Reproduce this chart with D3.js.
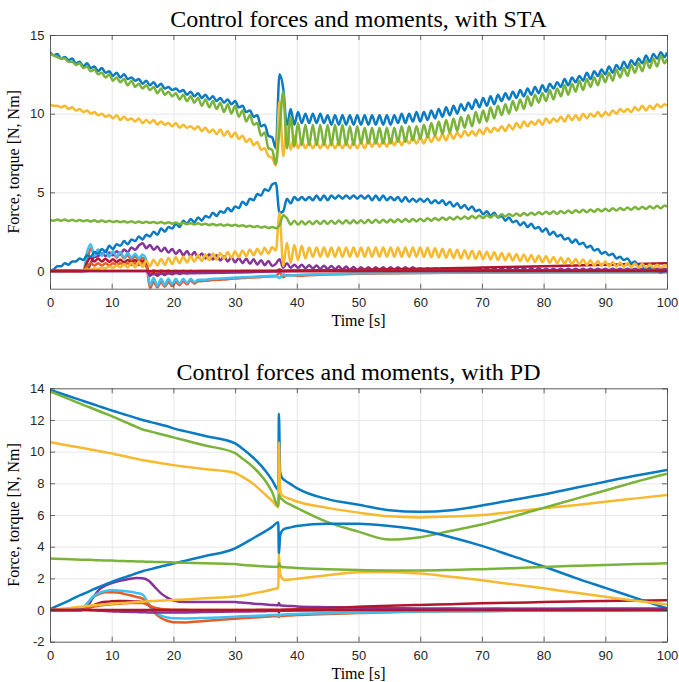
<!DOCTYPE html>
<html>

<head>
    <meta charset="utf-8" />
    <title>Control forces and moments</title>
    <style>
        body { margin: 0; background: #fff; }
        svg { display: block; }
        .ax text { font-family: "Liberation Sans", Arial, sans-serif; font-size: 13px; fill: #262626; }
        .lbl { font-family: "Liberation Serif", "Times New Roman", serif; fill: #000; }
    </style>
</head>

<body>
    <svg width="679" height="682"></svg>

<script src="https://cdn.jsdelivr.net/npm/d3@7"></script>
<script>

    // ---- shared ticks ----
    var timeTicks = [0, 10, 20, 30, 40, 50, 60, 70, 80, 90, 100];
    var staTicks = [0, 5, 10, 15];
    var pdTicks = [-2, 0, 2, 4, 6, 8, 10, 12, 14];

    // ---- STA run: logged every 0.6 s (half a chattering period), 168 samples ----
    var STEP = 0.6;

    var staBlueTop = [
        13.9,13.7,13.8,13.5,13.6,13.4,13.5,13.2,13.3,13.0,
        13.2,12.9,13.0,12.7,12.9,12.6,12.7,12.4,12.6,12.3,
        12.5,12.2,12.3,12.1,12.2,11.9,12.1,11.8,12.0,11.7,
        11.9,11.6,11.7,11.5,11.6,11.4,11.5,11.2,11.4,11.1,
        11.3,11.0,11.2,10.9,11.1,10.8,11.0,10.7,10.9,10.6,
        10.8,10.4,10.5,10.1,10.2,9.8,9.9,9.2,9.3,8.6,
        8.5,7.8,12.5,11.6,9.2,10.3,9.3,10.1,9.4,10.0,
        9.4,10.0,9.4,10.0,9.4,9.9,9.3,9.9,9.3,9.9,
        9.3,9.9,9.3,9.9,9.3,9.9,9.3,9.9,9.3,9.9,
        9.3,9.9,9.3,9.9,9.4,10.0,9.4,10.0,9.5,10.1,
        9.5,10.1,9.6,10.2,9.7,10.3,9.8,10.4,9.9,10.5,
        10.0,10.6,10.2,10.7,10.3,10.9,10.4,11.0,10.5,11.1,
        10.6,11.2,10.8,11.3,10.9,11.4,11.0,11.5,11.1,11.6,
        11.2,11.7,11.3,11.8,11.4,11.9,11.6,12.0,11.7,12.2,
        11.8,12.3,12.0,12.4,12.1,12.6,12.2,12.7,12.4,12.8,
        12.5,13.0,12.6,13.1,12.8,13.3,12.9,13.4,13.1,13.5,
        13.2,13.7,13.3,13.8,13.5,13.9,13.6,13.9
    ];
    var staGreenTop = [
        13.8,13.7,13.6,13.5,13.5,13.3,13.3,13.1,13.2,12.9,
        13.0,12.7,12.8,12.5,12.6,12.3,12.5,12.1,12.3,12.0,
        12.2,11.8,12.1,11.7,11.9,11.6,11.8,11.5,11.7,11.3,
        11.6,11.2,11.4,11.1,11.3,10.9,11.2,10.8,11.1,10.7,
        11.0,10.5,10.9,10.4,10.8,10.3,10.7,10.1,10.6,10.0,
        10.5,9.8,10.2,9.5,9.9,9.3,9.4,8.6,8.8,7.8,
        7.7,6.8,9.0,11.4,7.8,9.8,7.9,9.4,8.0,9.3,
        8.0,9.3,8.0,9.3,8.0,9.3,8.0,9.3,8.0,9.3,
        8.0,9.2,8.0,9.2,8.1,9.1,8.1,9.1,8.1,9.1,
        8.1,9.1,8.1,9.1,8.2,9.2,8.2,9.2,8.3,9.2,
        8.4,9.3,8.5,9.4,8.6,9.5,8.7,9.6,8.8,9.7,
        8.9,9.8,9.1,9.9,9.2,10.1,9.4,10.2,9.5,10.4,
        9.7,10.5,9.9,10.6,10.0,10.8,10.2,10.9,10.3,11.1,
        10.5,11.2,10.7,11.3,10.8,11.5,10.9,11.6,11.1,11.8,
        11.2,11.9,11.4,12.1,11.5,12.2,11.7,12.3,11.8,12.5,
        12.0,12.6,12.1,12.8,12.3,12.9,12.4,13.1,12.6,13.2,
        12.7,13.4,12.9,13.5,13.0,13.7,13.2,13.5
    ];
    var staYellowTop = [
        10.6,10.5,10.5,10.4,10.5,10.3,10.4,10.2,10.3,10.1,
        10.2,10.0,10.1,9.9,10.0,9.8,9.9,9.7,9.9,9.6,
        9.8,9.6,9.7,9.5,9.7,9.4,9.6,9.4,9.6,9.3,
        9.5,9.3,9.4,9.2,9.4,9.1,9.3,9.1,9.2,9.0,
        9.2,8.9,9.1,8.8,9.0,8.7,9.0,8.6,8.9,8.5,
        8.8,8.4,8.6,8.2,8.4,8.0,8.2,7.7,7.8,7.3,
        7.2,6.7,10.8,7.3,9.2,7.7,8.6,7.8,8.3,7.8,
        8.2,7.8,8.2,7.8,8.2,7.8,8.2,7.8,8.2,7.8,
        8.2,7.8,8.2,7.8,8.2,7.8,8.3,7.9,8.3,7.9,
        8.3,7.9,8.4,8.0,8.4,8.0,8.4,8.1,8.5,8.1,
        8.5,8.1,8.6,8.2,8.6,8.3,8.7,8.3,8.8,8.4,
        8.8,8.5,8.9,8.6,8.9,8.6,9.0,8.7,9.1,8.8,
        9.1,8.9,9.2,8.9,9.3,9.0,9.4,9.1,9.5,9.2,
        9.5,9.3,9.6,9.3,9.7,9.4,9.7,9.5,9.8,9.5,
        9.9,9.6,9.9,9.6,10.0,9.7,10.0,9.8,10.1,9.8,
        10.1,9.9,10.2,10.0,10.3,10.1,10.3,10.1,10.4,10.2,
        10.5,10.2,10.5,10.3,10.6,10.4,10.6,10.5
    ];
    var staBlueLow = [
        0.0,0.1,0.3,0.3,0.5,0.4,0.6,0.6,0.8,0.7,
        1.0,0.9,1.2,1.1,1.4,1.2,1.6,1.4,1.7,1.6,
        1.9,1.7,2.0,1.9,2.2,2.0,2.3,2.2,2.5,2.3,
        2.7,2.5,2.8,2.7,3.0,2.8,3.2,3.0,3.3,3.1,
        3.4,3.2,3.5,3.4,3.7,3.5,3.8,3.7,4.0,3.8,
        4.1,4.0,4.4,4.2,4.6,4.5,4.9,4.8,5.2,5.1,
        5.5,5.6,3.7,3.8,4.6,4.3,4.7,4.5,4.7,4.5,
        4.7,4.5,4.8,4.5,4.8,4.5,4.8,4.6,4.8,4.6,
        4.8,4.6,4.8,4.6,4.8,4.6,4.8,4.5,4.8,4.5,
        4.8,4.5,4.7,4.5,4.7,4.4,4.7,4.4,4.6,4.4,
        4.6,4.4,4.6,4.3,4.5,4.3,4.5,4.2,4.4,4.1,
        4.3,4.0,4.2,3.9,4.1,3.8,3.9,3.6,3.8,3.5,
        3.7,3.4,3.5,3.2,3.4,3.1,3.2,2.9,3.1,2.8,
        3.0,2.7,2.8,2.5,2.7,2.3,2.5,2.2,2.3,2.0,
        2.1,1.8,2.0,1.7,1.8,1.5,1.6,1.3,1.4,1.1,
        1.2,1.0,1.1,0.8,0.9,0.7,0.8,0.5,0.6,0.3,
        0.4,0.1,0.2,0.0,0.0,-0.1,0.0,0.0
    ];
    var staGreenLow = [
        3.25,3.20,3.28,3.19,3.27,3.18,3.25,3.17,3.24,3.16,
        3.23,3.14,3.22,3.13,3.21,3.12,3.19,3.11,3.18,3.10,
        3.17,3.08,3.16,3.07,3.15,3.06,3.13,3.05,3.12,3.04,
        3.11,3.02,3.10,3.01,3.08,2.99,3.06,2.97,3.04,2.96,
        3.03,2.94,3.01,2.92,2.99,2.90,2.97,2.88,2.95,2.87,
        2.94,2.85,2.91,2.82,2.88,2.79,2.86,2.76,2.83,2.73,
        2.80,2.72,2.90,3.55,3.35,2.95,3.20,2.95,3.16,2.96,
        3.17,2.97,3.18,2.98,3.19,2.99,3.20,3.00,3.21,3.01,
        3.22,3.02,3.22,3.03,3.23,3.04,3.25,3.05,3.26,3.07,
        3.26,3.09,3.28,3.10,3.29,3.12,3.30,3.13,3.31,3.15,
        3.32,3.17,3.35,3.20,3.37,3.22,3.40,3.25,3.42,3.27,
        3.45,3.30,3.47,3.32,3.50,3.35,3.52,3.37,3.55,3.40,
        3.58,3.43,3.60,3.46,3.63,3.49,3.66,3.51,3.69,3.54,
        3.71,3.57,3.74,3.60,3.77,3.62,3.79,3.64,3.82,3.67,
        3.84,3.69,3.86,3.72,3.89,3.74,3.91,3.76,3.94,3.79,
        3.96,3.81,3.99,3.84,4.01,3.87,4.04,3.89,4.06,3.92,
        4.09,3.94,4.11,3.97,4.14,3.99,4.16,4.09
    ];
    var staYellowLow = [
        0,0,0,0,0,0,0,0.0,0.04,0.06,
        0.10,0.10,0.17,0.14,0.23,0.17,0.29,0.20,0.36,0.22,
        0.44,0.22,0.53,0.23,0.61,0.25,0.67,0.30,0.72,0.35,
        0.77,0.39,0.82,0.44,0.87,0.49,0.91,0.54,0.96,0.59,
        1.01,0.63,1.06,0.68,1.11,0.73,1.15,0.78,1.20,0.83,
        1.25,0.88,1.31,0.94,1.37,1.00,1.42,1.05,1.47,1.10,
        1.52,1.3,3.7,0.3,1.8,0.5,1.65,0.7,1.6,0.8,
        1.5,0.9,1.5,0.9,1.5,0.9,1.5,0.9,1.5,0.9,
        1.5,0.9,1.5,0.9,1.5,0.9,1.5,0.9,1.5,0.9,
        1.5,0.9,1.5,0.9,1.5,0.9,1.5,0.9,1.5,0.9,
        1.50,0.89,1.47,0.87,1.44,0.86,1.41,0.84,1.38,0.82,
        1.35,0.80,1.32,0.78,1.29,0.77,1.26,0.75,1.23,0.73,
        1.19,0.70,1.15,0.68,1.12,0.66,1.08,0.63,1.05,0.61,
        1.01,0.58,0.97,0.56,0.94,0.52,0.89,0.49,0.86,0.47,
        0.81,0.43,0.76,0.41,0.73,0.38,0.68,0.34,0.64,0.32,
        0.60,0.29,0.57,0.27,0.54,0.26,0.51,0.24,0.47,0.22,
        0.45,0.20,0.42,0.18,0.39,0.17,0.36,0.25
    ];
    var staPurple = [
        0,0,0,0,0,0,0,0,0,0,
        0,0.5,0.9,0.95,1.12,0.95,1.18,1.0,1.25,1.07,
        1.37,1.2,1.5,1.35,1.62,1.77,1.45,1.65,1.35,1.55,
        1.25,1.47,1.17,1.40,1.08,1.34,1.00,1.27,0.93,1.20,
        0.86,1.12,0.79,1.06,0.73,1.00,0.67,0.94,0.61,0.88,
        0.55,0.83,0.50,0.78,0.46,0.74,0.41,0.69,0.37,0.64,
        0.32,0.45,0.75,0.2,0.5,0.2,0.4,0.20,0.39,0.18,
        0.37,0.16,0.35,0.14,0.33,0.13,0.32,0.11,0.30,0.09,
        0.28,0.07,0.26,0.05,0.24,0.06,0.24,0.06,0.24,0.06,
        0.24,0.06,0.24,0.06,0.24,0.06,0.24,0.06,0.24,0.06,
        0.18,0.02,0.18,0.02,0.18,0.02,0.18,0.02,0.18,0.02,
        0.18,0.02,0.18,0.02,0.18,0.02,0.18,0.02,0.18,0.02,
        0.18,0.02,0.18,0.02,0.18,0.02,0.18,0.02,0.18,0.02,
        0.18,0.02,0.18,0.02,0.14,0.02,0.14,0.02,0.14,0.02,
        0.14,0.02,0.14,0.02,0.14,0.02,0.14,0.02,0.14,0.02,
        0.14,0.02,0.14,0.02,0.14,0.02,0.14,0.02,0.14,0.02,
        0.14,0.02,0.14,0.02,0.14,0.02,0.14,0.08
    ];

    // small STA signals, read at these instants
    var staLowTime = [0, 5.4, 6.0, 6.6, 7.2, 7.8, 8.4, 9.0, 9.6, 10.2, 10.8, 11.4, 12.0, 12.6, 13.2, 13.8, 14.4, 15.0,
        15.6, 16.2, 16.8, 17.4, 18.0, 18.6, 19.2, 19.8, 20.4, 21.0, 21.6, 22.2, 22.8, 23.4, 24.0, 25.2, 26.4, 27.6,
        28.8, 30.0, 31.2, 32.4, 33.6, 34.8, 36.0, 36.6, 37.2, 37.8, 38.4, 40, 45, 50, 60, 70, 80, 90, 100];
    var staCyan = [0, 0, 1.2, 1.7, 0.95, 1.35, 0.95, 1.3, 0.9, 1.25, 0.9, 1.2, 0.85, 1.15, 0.85, 1.1, 0.8, 1.05,
        0.7, -0.9, -0.45, -0.95, -0.5, -0.9, -0.5, -0.85, -0.5, -0.8, -0.5, -0.75, -0.5, -0.7, -0.55, -0.55, -0.5, -0.48,
        -0.45, -0.42, -0.4, -0.38, -0.35, -0.33, -0.3, -0.3, -0.45, -0.2, -0.3, -0.25, -0.2, -0.15, -0.12, -0.1, -0.1, -0.1, -0.1];
    var staOrange = [0, 0, 0.6, 1.45, 1.05, 1.35, 1.0, 1.3, 0.95, 1.2, 0.85, 1.1, 0.8, 1.0, 0.7, 0.95, 0.65, 0.85,
        0.5, -1.1, -0.7, -1.05, -0.7, -1.0, -0.7, -0.95, -0.7, -0.9, -0.65, -0.85, -0.6, -0.8, -0.65, -0.62, -0.58, -0.55,
        -0.52, -0.48, -0.45, -0.42, -0.4, -0.37, -0.35, -0.34, -0.1, -0.4, -0.25, -0.3, -0.22, -0.18, -0.12, -0.1, -0.08, -0.07, -0.06];
    var staRed = [0, 0, 0.55, 0.85, 0.6, 0.8, 0.6, 0.78, 0.58, 0.75, 0.58, 0.72, 0.55, 0.7, 0.55, 0.68, 0.52, 0.65,
        0.4, -0.3, -0.1, -0.3, -0.1, -0.25, -0.08, -0.2, -0.08, -0.18, -0.06, -0.15, -0.05, -0.12, -0.06, -0.05, -0.04, -0.03,
        -0.02, -0.02, 0, 0, 0, 0, 0, 0, 0.1, 0, 0.02, 0.03, 0.05, 0.08, 0.14, 0.22, 0.3, 0.4, 0.5];
    var staOrange2 = [0, 0, 0.3, 0.5, 0.35, 0.5, 0.35, 0.5, 0.35, 0.5, 0.38, 0.5, 0.38, 0.5, 0.38, 0.5, 0.38, 0.5,
        0.3, -0.1, 0.05, -0.1, 0.03, -0.08, 0.03, -0.06, 0.02, -0.05, 0.02, -0.04, 0.02, -0.03, 0, 0, 0, 0,
        0, 0, 0, 0, 0, 0, 0, 0, 0, 0, 0, 0, 0, 0, 0, 0, 0, 0, 0];
    var staPurple2Time = [0, 15.6, 16.2, 20, 30, 40, 100];
    var staPurple2 = [0, 0, -0.2, -0.15, -0.1, 0, 0.08];
    var flatTime = [0, 100];
    var staRedFlat = [0, 0];

    // ---- PD run: smooth signals, read at these instants ----
    var pdTime = [0, 2, 5, 6, 7, 8, 9, 10, 11, 12, 13, 14, 15, 16, 17, 18, 19, 20, 22, 25, 30, 31, 33, 35, 36, 37,
        37.1, 37.3, 37.6, 38, 39, 40, 45, 50, 55, 60, 65, 70, 75, 80, 85, 90, 95, 100];
    var pdBlueTop = [13.9, 13.64, 13.25, 13.12, 12.99, 12.86, 12.73, 12.6, 12.48, 12.36, 12.24, 12.12, 12.0, 11.9,
        11.8, 11.7, 11.6, 11.47, 11.28, 11.0, 10.52, 10.25, 9.6, 8.75, 8.2, 7.6, 12.4, 8.7, 8.35, 8.2, 7.95, 7.7,
        7.0, 6.65, 6.3, 6.2, 6.3, 6.6, 6.95, 7.3, 7.7, 8.1, 8.5, 8.85];
    var pdGreenTop = [13.8, 13.49, 13.02, 12.86, 12.71, 12.55, 12.4, 12.24, 12.07, 11.9, 11.73, 11.57, 11.4, 11.3,
        11.2, 11.1, 11.0, 10.9, 10.7, 10.4, 9.9, 9.62, 9.0, 8.1, 7.45, 6.55, 7.3, 7.1, 7.0, 6.85, 6.65, 6.45,
        5.55, 4.95, 4.45, 4.6, 5.0, 5.4, 5.9, 6.45, 7.0, 7.55, 8.1, 8.6];
    var pdYellowTop = [10.6, 10.45, 10.25, 10.18, 10.1, 10.03, 9.96, 9.89, 9.8, 9.72, 9.63, 9.55, 9.46, 9.4, 9.34,
        9.27, 9.21, 9.15, 9.05, 8.9, 8.65, 8.45, 7.95, 7.25, 6.9, 6.5, 10.6, 7.6, 7.25, 7.15, 7.0, 6.85, 6.45,
        6.15, 5.92, 5.85, 5.9, 6.0, 6.2, 6.42, 6.62, 6.83, 7.05, 7.26];
    var pdBlueLow = [0.05, 0.4, 0.95, 1.12, 1.3, 1.46, 1.62, 1.78, 1.92, 2.05, 2.18, 2.32, 2.45, 2.55, 2.65, 2.75,
        2.84, 2.93, 3.12, 3.4, 3.9, 4.1, 4.55, 5.0, 5.25, 5.55, 3.5, 4.7, 5.0, 5.12, 5.22, 5.3, 5.45, 5.45, 5.3,
        5.05, 4.6, 4.05, 3.4, 2.75, 2.05, 1.4, 0.75, 0.1];
    var pdGreenLow = [3.25, 3.22, 3.18, 3.17, 3.16, 3.14, 3.13, 3.12, 3.1, 3.09, 3.08, 3.07, 3.06, 3.05, 3.04, 3.03,
        3.02, 3.0, 2.98, 2.95, 2.9, 2.86, 2.8, 2.75, 2.73, 2.72, 2.95, 2.8, 2.72, 2.7, 2.68, 2.65, 2.57, 2.52, 2.5,
        2.5, 2.53, 2.58, 2.64, 2.72, 2.79, 2.85, 2.9, 2.95];
    var pdYellowLow = [0, 0.08, 0.2, 0.25, 0.3, 0.33, 0.37, 0.4, 0.43, 0.45, 0.48, 0.5, 0.52, 0.55, 0.57, 0.59, 0.61,
        0.63, 0.67, 0.74, 0.85, 0.9, 1.05, 1.2, 1.3, 1.4, 3.5, 2.3, 2.0, 1.9, 1.92, 1.97, 2.2, 2.38, 2.4, 2.3, 2.1,
        1.88, 1.62, 1.37, 1.1, 0.84, 0.58, 0.35];
    var pdPurple = [0, 0, 0, 0.2, 0.8, 1.3, 1.55, 1.7, 1.82, 1.9, 1.97, 2.02, 2.0, 1.85, 1.45, 1.05, 0.78, 0.6, 0.5,
        0.5, 0.5, 0.47, 0.4, 0.35, 0.32, 0.3, 0.45, 0.3, 0.28, 0.27, 0.25, 0.23, 0.18, 0.14, 0.12, 0.1, 0.09, 0.08,
        0.07, 0.06, 0.06, 0.05, 0.05, 0.05];
    var pdCyan = [0, 0, 0, 0.4, 0.85, 1.08, 1.2, 1.25, 1.24, 1.2, 1.15, 1.08, 0.98, 0.4, -0.1, -0.35, -0.47, -0.52,
        -0.53, -0.5, -0.42, -0.4, -0.37, -0.34, -0.32, -0.3, -0.38, -0.3, -0.29, -0.28, -0.27, -0.25, -0.2, -0.16,
        -0.13, -0.1, -0.08, -0.07, -0.05, -0.04, -0.03, -0.02, -0.02, -0.01];
    var pdOrange = [0, 0, 0, 0.4, 0.82, 1.02, 1.12, 1.13, 1.1, 1.02, 0.93, 0.83, 0.72, 0.3, -0.2, -0.5, -0.68, -0.77,
        -0.78, -0.7, -0.55, -0.52, -0.47, -0.42, -0.4, -0.38, -0.45, -0.38, -0.37, -0.36, -0.34, -0.32, -0.25, -0.19,
        -0.14, -0.1, -0.08, -0.06, -0.05, -0.04, -0.03, -0.03, -0.02, -0.02];
    var pdRed = [0, 0, 0, 0.1, 0.3, 0.45, 0.52, 0.55, 0.57, 0.57, 0.56, 0.54, 0.5, 0.3, 0.12, 0.04, 0.0, -0.02, -0.03,
        -0.03, -0.02, -0.02, -0.01, 0, 0, 0, -0.15, 0, 0.01, 0.02, 0.04, 0.06, 0.12, 0.2, 0.27, 0.32, 0.37, 0.42,
        0.46, 0.5, 0.54, 0.57, 0.6, 0.62];
    var pdOrange2 = [0, 0, 0, 0.1, 0.2, 0.28, 0.33, 0.37, 0.4, 0.42, 0.44, 0.45, 0.45, 0.3, 0.15, 0.07, 0.03, 0.02,
        0.01, 0, 0, 0, 0, 0, 0, 0, 0, 0, 0, 0, 0, 0, 0, 0, 0, 0, 0, 0, 0, 0, 0, 0, 0, 0];
    var pdPurple2 = [0, 0, 0, 0, -0.02, -0.04, -0.06, -0.08, -0.1, -0.11, -0.12, -0.13, -0.14, -0.15, -0.16, -0.16,
        -0.16, -0.16, -0.15, -0.13, -0.1, -0.1, -0.08, -0.07, -0.06, -0.06, -0.06, -0.05, -0.05, -0.05, -0.04, -0.03,
        0, 0.02, 0.04, 0.05, 0.06, 0.07, 0.08, 0.08, 0.09, 0.09, 0.1, 0.1];
    var pdRedFlat = [0, 0];

    // MATLAB-like colour order
    var BLUE = '#0A7BC2', ORANGE = '#E75B28', YELLOW = '#F7B92D', PURPLE = '#86339A',
        GREEN = '#7AB339', CYAN = '#40C0F0', RED = '#B0172F';

    var staTime = staBlueTop.map(function (d, i) { return Math.min(i * STEP, 100); });

    var staSeries = [
        { t: staTime, v: staBlueTop, c: BLUE },
        { t: staLowTime, v: staOrange, c: ORANGE },
        { t: staTime, v: staYellowTop, c: YELLOW },
        { t: staTime, v: staPurple, c: PURPLE },
        { t: staTime, v: staGreenTop, c: GREEN },
        { t: staLowTime, v: staCyan, c: CYAN },
        { t: staLowTime, v: staRed, c: RED },
        { t: staTime, v: staBlueLow, c: BLUE },
        { t: staLowTime, v: staOrange2, c: ORANGE },
        { t: staTime, v: staYellowLow, c: YELLOW },
        { t: staPurple2Time, v: staPurple2, c: PURPLE },
        { t: staTime, v: staGreenLow, c: GREEN },
        { t: flatTime, v: staRedFlat, c: RED }
    ];
    var pdSeries = [
        { t: pdTime, v: pdBlueTop, c: BLUE },
        { t: pdTime, v: pdOrange, c: ORANGE },
        { t: pdTime, v: pdYellowTop, c: YELLOW },
        { t: pdTime, v: pdPurple, c: PURPLE },
        { t: pdTime, v: pdGreenTop, c: GREEN },
        { t: pdTime, v: pdCyan, c: CYAN },
        { t: pdTime, v: pdRed, c: RED },
        { t: pdTime, v: pdBlueLow, c: BLUE },
        { t: pdTime, v: pdOrange2, c: ORANGE },
        { t: pdTime, v: pdYellowLow, c: YELLOW },
        { t: pdTime, v: pdPurple2, c: PURPLE },
        { t: pdTime, v: pdGreenLow, c: GREEN },
        { t: flatTime, v: pdRedFlat, c: RED }
    ];

    var svg = d3.select('svg');

    function drawPanel(box, yDomain, yTicks, series, title, clipId) {
        var x = d3.scaleLinear().domain([0, 100]).range([box.left, box.right]);
        var y = d3.scaleLinear().domain(yDomain).range([box.bottom, box.top]);
        var w = box.right - box.left, h = box.bottom - box.top;

        svg.append('clipPath').attr('id', clipId).append('rect')
            .attr('x', box.left).attr('y', box.top).attr('width', w).attr('height', h);

        // grid
        var gx = svg.append('g').attr('transform', 'translate(0,' + box.bottom + ')')
            .call(d3.axisBottom(x).tickValues(timeTicks).tickSize(-h).tickSizeOuter(0).tickFormat(''));
        var gy = svg.append('g').attr('transform', 'translate(' + box.left + ',0)')
            .call(d3.axisLeft(y).tickValues(yTicks).tickSize(-w).tickSizeOuter(0).tickFormat(''));
        [gx, gy].forEach(function (g) {
            g.select('.domain').remove();
            g.selectAll('line').attr('stroke', '#e6e6e6').attr('stroke-width', 1);
        });

        // signals (monotone keeps the chattering rounded at its peaks)
        var line = d3.line()
            .x(function (d) { return x(d[0]); })
            .y(function (d) { return y(d[1]); })
            .curve(d3.curveMonotoneX);
        svg.append('g').attr('clip-path', 'url(#' + clipId + ')')
            .selectAll('path')
            .data(series)
            .enter()
            .append('path')
            .attr('d', function (s) {
                var pts = s.v.map(function (v, i) { return [s.t[i], v]; })
                    .filter(function (p) { return p[0] !== undefined; });
                return line(pts);
            })
            .attr('fill', 'none')
            .attr('stroke', function (s) { return s.c; })
            .attr('stroke-width', 2.5)
            .attr('stroke-linejoin', 'round');

        // box with inward ticks on all four sides
        var axes = [
            { a: d3.axisBottom(x).tickValues(timeTicks).tickPadding(9.5), tr: 'translate(0,' + box.bottom + ')', lab: true },
            { a: d3.axisTop(x).tickValues(timeTicks).tickFormat(''), tr: 'translate(0,' + box.top + ')' },
            { a: d3.axisLeft(y).tickValues(yTicks).tickPadding(5.5), tr: 'translate(' + box.left + ',0)', lab: true },
            { a: d3.axisRight(y).tickValues(yTicks).tickFormat(''), tr: 'translate(' + box.right + ',0)' }
        ];
        axes.forEach(function (o) {
            o.a.tickSizeInner(-5).tickSizeOuter(0);
            if (o.lab) o.a.tickFormat(function (d) { return String(d); });
            svg.append('g').attr('class', 'ax').attr('transform', o.tr)
                .attr('color', '#404040').call(o.a)
                .selectAll('path, line').attr('stroke-width', 0.8);
        });

        // labels
        var cx = (box.left + box.right) / 2;
        svg.append('text').attr('class', 'lbl').attr('x', cx).attr('y', box.top - 8)
            .attr('text-anchor', 'middle').style('font-size', '24px').text(title);
        svg.append('text').attr('class', 'lbl').attr('x', cx).attr('y', box.bottom + 37)
            .attr('text-anchor', 'middle').style('font-size', '16px').text('Time [s]');
        svg.append('text').attr('class', 'lbl')
            .attr('transform', 'translate(18.5,' + (box.top + box.bottom) / 2 + ') rotate(-90)')
            .attr('text-anchor', 'middle').style('font-size', '16px').text('Force, torque [N, Nm]');
    }

    drawPanel({ left: 50, right: 667, top: 35, bottom: 288.7 }, [-1.125, 15], staTicks, staSeries,
        'Control forces and moments, with STA', 'clipSta');
    drawPanel({ left: 50, right: 667, top: 388.3, bottom: 641.7 }, [-2, 14], pdTicks, pdSeries,
        'Control forces and moments, with PD', 'clipPd');
</script>
</body>

</html>
